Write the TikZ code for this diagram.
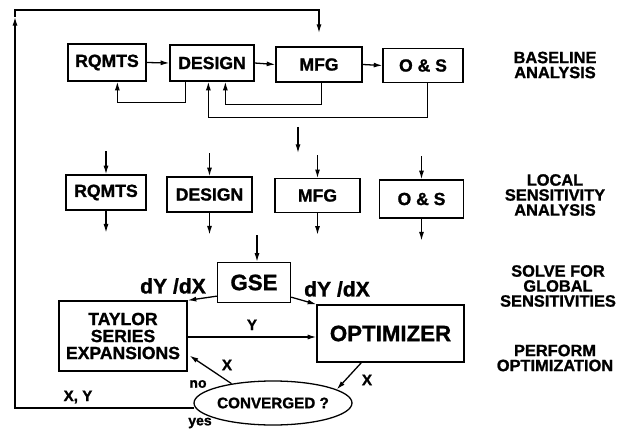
\documentclass[tikz,border=0pt]{standalone}
\usepackage{fontspec}
\setmainfont{Liberation Sans}[BoldFeatures={FakeBold=1.2}]
\usepackage{tikz}
\usetikzlibrary{calc}
\usetikzlibrary{positioning}
\usetikzlibrary{arrows.meta}
\usetikzlibrary{shapes.geometric}

\begin{document}
\begin{tikzpicture}[x=0.03cm,y=-0.03cm,line width=1.1pt,
        >={Latex[length=2.6mm,width=1.5mm]},
        box/.style={draw,inner sep=0pt,align=center,font=\fontsize{15}{14.5}\selectfont\bfseries},
        sidelbl/.style={align=center,font=\fontsize{14}{12.8}\selectfont\bfseries},
        lbl/.style={font=\fontsize{13}{13}\selectfont\bfseries},
        biglbl/.style={font=\fontsize{18}{18}\selectfont\bfseries}]
    \useasboundingbox (0,0) rectangle (622,429);
    % baseline analysis
    \node[box,minimum width=2.34cm,minimum height=1.11cm] (rq) at (107,62.5) {RQMTS};
    \node[box,minimum width=2.52cm,minimum height=1.08cm] (des) at (212,63) {DESIGN};
    \node[box,minimum width=2.58cm,minimum height=1.05cm] (mfg) at (319,64.5) {MFG};
    \node[box,minimum width=2.4cm,minimum height=1.0cm] (os) at (423,65.5) {O \& S};
    \draw[->] (rq.east) -- (des.west);
    \draw[->] (des.east) -- (mfg.west);
    \draw[->] (mfg.east) -- (os.west);
    \draw[->] ($(des.south west)+(16,0)$) -- ++(0,21) -| ($(rq.south west)+(50,0)$);
    \draw[->] ($(mfg.south west)+(46,0)$) -- ++(0,22) -| ($(des.south west)+(56,0)$);
    \draw[->] ($(os.south west)+(45,0)$) -- ++(0,35) -| ($(des.south west)+(39,0)$);
    \coordinate (basein) at (298,127);
    \coordinate (baseout) at (298,153);
    \draw[->] (basein) -- (baseout);

    % local sensitivity analysis
    \node[box,minimum width=2.4cm,minimum height=1.05cm] (rq2) at (106,192.5) {RQMTS};
    \node[box,minimum width=2.55cm,minimum height=1.05cm] (des2) at (209.5,194.5) {DESIGN};
    \node[box,minimum width=2.55cm,minimum height=1.0cm] (mfg2) at (317.5,195.5) {MFG};
    \node[box,minimum width=2.5cm,minimum height=1.14cm] (os2) at (421.5,199) {O \& S};
    \foreach \n in {rq2,des2,mfg2,os2} {
        \draw[->] ([yshift=0.69cm]\n.north) -- (\n.north);
        \draw[->] (\n.south) -- ([yshift=-0.66cm]\n.south);
    }

    % global sensitivities
    \node[box,font=\fontsize{19}{19}\selectfont\bfseries,minimum width=2.19cm,minimum height=1.2cm] (gse) at (254,282.5) {GSE};
    \coordinate (locout) at (257,235);
    \draw[->] (locout) -- (locout |- gse.north);
    \node[box,minimum width=3.84cm,minimum height=2.1cm] (tay) at (123,336) {TAYLOR\\SERIES\\EXPANSIONS};
    \node[box,font=\fontsize{19}{19}\selectfont\bfseries,minimum width=4.41cm,minimum height=1.71cm] (opt) at (390.5,333.5) {OPTIMIZER};
    \node[biglbl] (dl) at (173,286) {dY /dX};
    \node[biglbl] (dr) at (337,289) {dY /dX};
    \draw[->] ($(gse.south west)+(0,-7)$) -- (tay.north east);
    \draw[->] ($(gse.south east)+(0,-6)$) -- (opt.north west);
    \draw[->] (tay.east |- 0,337) -- (opt.west |- 0,337) node[lbl,midway,above=2pt] {Y};

    % optimization
    \node[draw,ellipse,inner sep=0pt,minimum width=4.14cm,minimum height=1.32cm,font=\fontsize{13}{13}\selectfont\bfseries] (conv) at (273,403) {CONVERGED ?};
    \draw[->] ($(opt.south west)+(45,0)$) -- (conv.12);
    \node[lbl] (xr) at (367,380) {X};
    \draw[->] (conv.155) -- ($(tay.south east)+(2,-16)$);
    \node[lbl] (xl) at (227,365) {X};
    \node[lbl,font=\fontsize{12}{12}\selectfont\bfseries] (no) at (198,384) {no};
    \node[lbl,font=\fontsize{12}{12}\selectfont\bfseries] (yes) at (200,423) {yes};
    \node[lbl] (xy) at (78,397) {X, Y};
    \coordinate (lc2) at (15,17);
    \coordinate (lc) at (15,10);
    \draw[->] ($(conv.west)+(1,5)$) -| (lc2);
    \draw[->,shorten >=0.4cm] (lc2) -- (lc) -| (mfg.north);

    % right hand labels
    \node[sidelbl] (s1) at (555,65) {BASELINE\\ANALYSIS};
    \node[sidelbl] (s2) at (555,195) {LOCAL\\SENSITIVITY\\ANALYSIS};
    \node[sidelbl] (s3) at (558,286) {SOLVE FOR\\GLOBAL\\SENSITIVITIES};
    \node[sidelbl] (s4) at (555,358) {PERFORM\\OPTIMIZATION};
\end{tikzpicture}
\end{document}
